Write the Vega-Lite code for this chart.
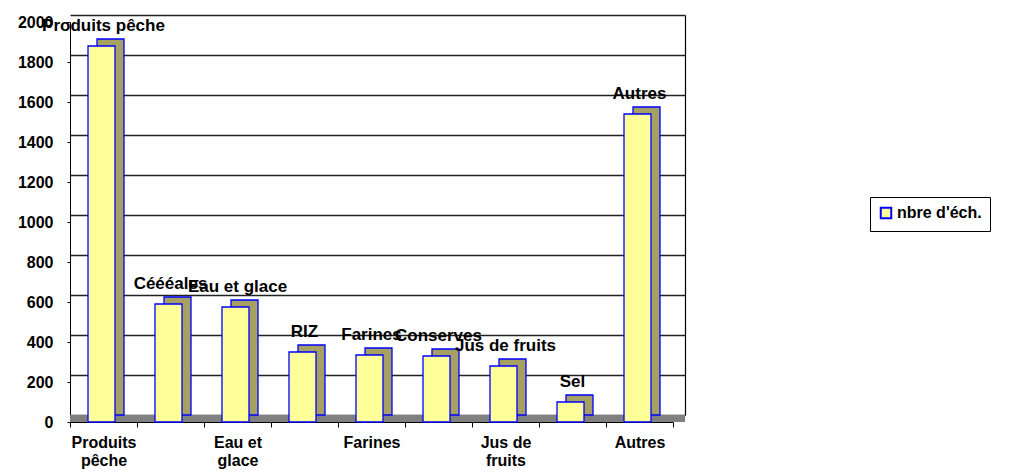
{
  "$schema": "https://vega.github.io/schema/vega-lite/v6.json",
  "autosize": {"type": "none"},
  "padding": {"left": 70, "top": 15, "right": 339, "bottom": 50},
  "width": 615,
  "height": 407,
  "background": "white",
  "config": {
    "view": {"stroke": null},
    "font": "Liberation Sans",
    "axis": {"labelFont": "Liberation Sans", "labelFontWeight": "bold", "labelColor": "black", "domainColor": "black", "tickColor": "black"}
  },
  "data": {
    "values": [
      {"categorie": "Produits pêche", "valeur": 1880},
      {"categorie": "Céééales", "valeur": 590},
      {"categorie": "Eau et glace", "valeur": 575},
      {"categorie": "RIZ", "valeur": 350},
      {"categorie": "Farines", "valeur": 335},
      {"categorie": "Conserves", "valeur": 330},
      {"categorie": "Jus de fruits", "valeur": 280},
      {"categorie": "Sel", "valeur": 100},
      {"categorie": "Autres", "valeur": 1540}
    ]
  },
  "layer": [
    {
      "mark": {"type": "rule", "color": "#808080", "strokeWidth": 7, "yOffset": 3.5},
      "encoding": {
        "y": {
          "datum": 0, "type": "quantitative",
          "scale": {"domain": [0, 2000], "range": [400, 0], "nice": false, "zero": true},
          "axis": {"orient": "right", "title": null, "labels": false, "ticks": false, "domain": true, "domainWidth": 1.2,
                   "grid": true, "gridColor": "#222222", "gridWidth": 1.3, "gridOpacity": 1,
                   "values": [0, 200, 400, 600, 800, 1000, 1200, 1400, 1600, 1800, 2000]}
        }
      }
    },
    {
      "encoding": {
        "x": {
          "field": "categorie", "type": "nominal", "sort": null,
          "scale": {"range": [0, 603], "paddingInner": 0, "paddingOuter": 0},
          "axis": {"title": null, "labelAngle": 0, "tickBand": "extent", "tickSize": 5, "labelPadding": 7,
                   "labelFontSize": 16, "labelLineHeight": 18, "labelBaseline": "top", "labelOverlap": false,
                   "labelExpr": "datum.label == 'Produits pêche' ? ['Produits','pêche'] : datum.label == 'Eau et glace' ? ['Eau et','glace'] : datum.label == 'Jus de fruits' ? ['Jus de','fruits'] : (datum.label == 'Farines' || datum.label == 'Autres') ? datum.label : ''"}
        },
        "y": {
          "field": "valeur", "type": "quantitative",
          "scale": {"domain": [0, 2000], "range": [407, 7], "nice": false},
          "axis": {"orient": "left", "title": null, "grid": false, "tickSize": 3, "labelPadding": 14, "labelFontSize": 16, "format": "d",
                   "values": [0, 200, 400, 600, 800, 1000, 1200, 1400, 1600, 1800, 2000]}
        }
      },
      "layer": [
        {
          "mark": {"type": "bar", "width": 27, "xOffset": 7, "yOffset": -7, "fill": "#A6A062", "stroke": "#0000FF", "strokeWidth": 1.3}
        },
        {
          "mark": {"type": "bar", "width": 27, "xOffset": -2, "stroke": "#0000FF", "strokeWidth": 1.3},
          "encoding": {
            "fill": {
              "datum": "nbre d'éch.", "type": "nominal",
              "scale": {"range": ["#FFFF99"]},
              "legend": {"title": null, "orient": "none", "legendX": 800, "legendY": 182, "padding": 8,
                         "strokeColor": "black", "fillColor": "white", "symbolType": "square", "symbolSize": 110,
                         "symbolStrokeColor": "#0000FF", "symbolStrokeWidth": 2, "symbolFillColor": "#FFFF99",
                         "labelFont": "Liberation Sans", "labelFontWeight": "bold", "labelFontSize": 16, "labelColor": "black", "labelOffset": 3}
            }
          }
        },
        {
          "mark": {"type": "text", "font": "Liberation Sans", "fontWeight": "bold", "fontSize": 17, "baseline": "alphabetic", "dy": -15, "color": "black"},
          "encoding": {"text": {"field": "categorie"}}
        }
      ]
    }
  ],
  "resolve": {"scale": {"y": "independent"}, "axis": {"y": "independent"}}
}
